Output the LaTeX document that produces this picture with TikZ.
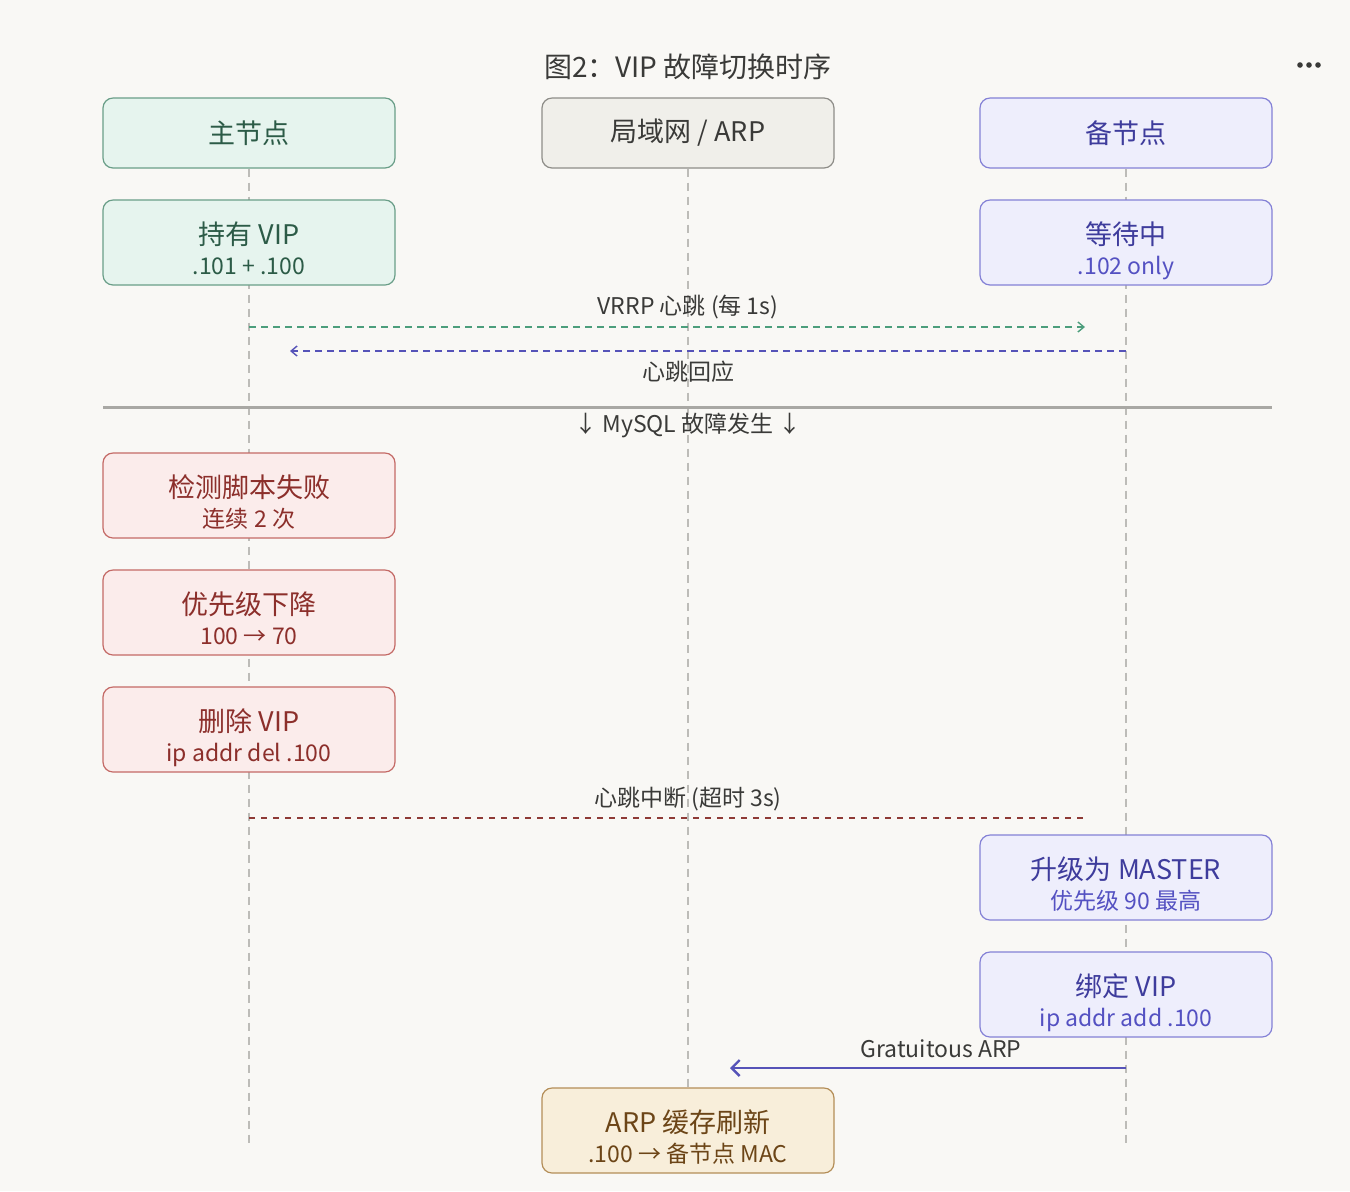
\documentclass[tikz,border=0pt]{standalone}
\usepackage{fontspec}
\setmainfont{Noto Sans CJK SC}
\usetikzlibrary{arrows.meta,positioning,backgrounds}
\definecolor{paper}{HTML}{F9F8F5}
\definecolor{ink}{HTML}{3A3A38}
\definecolor{lifegray}{HTML}{BDBCB8}
\definecolor{sepgray}{HTML}{A9A8A4}
\definecolor{mainfill}{HTML}{E6F4EE}
\definecolor{maindraw}{HTML}{6A9E88}
\definecolor{maintext}{HTML}{2C5B47}
\definecolor{netfill}{HTML}{F0EFEA}
\definecolor{netdraw}{HTML}{8E8D88}
\definecolor{backfill}{HTML}{EEEEFC}
\definecolor{backdraw}{HTML}{8481D6}
\definecolor{backtext}{HTML}{3E3C9C}
\definecolor{backsub}{HTML}{5451C2}
\definecolor{failfill}{HTML}{FBECEB}
\definecolor{faildraw}{HTML}{C46A66}
\definecolor{failtext}{HTML}{8C2F2B}
\definecolor{arpfill}{HTML}{F8EEDA}
\definecolor{arpdraw}{HTML}{B48E58}
\definecolor{arptext}{HTML}{6C4517}
\definecolor{hbgreen}{HTML}{4C9E7C}
\definecolor{hbpurple}{HTML}{5653B8}
\definecolor{hbred}{HTML}{8E3A36}
\newcommand{\headsub}[2]{\rule{0pt}{20pt}#1\\[-1pt]{\fontsize{11.5}{14}\selectfont #2\rule[-3pt]{0pt}{3pt}}}

\begin{document}
\begin{tikzpicture}[x=0.5pt, y=-0.5pt,
node distance=15.4pt,
lane/.style={rounded corners=5pt, line width=0.6pt, minimum width=146pt, minimum height=35pt, align=center, font=\fontsize{13.5}{16}\selectfont},
stepbox/.style={lane, minimum height=42.5pt, inner sep=2pt},
mainbox/.style={fill=mainfill, draw=maindraw, text=maintext},
netbox/.style={fill=netfill, draw=netdraw, text=ink},
backbox/.style={fill=backfill, draw=backdraw, text=backtext},
failbox/.style={fill=failfill, draw=faildraw, text=failtext},
arpbox/.style={fill=arpfill, draw=arpdraw, text=arptext},
msg/.style={font=\fontsize{11.5}{14}\selectfont, text=ink, inner sep=1pt},
lifeline/.style={draw=lifegray, line width=0.75pt, dash pattern=on 4pt off 3pt},
async/.style={line width=0.7pt, dash pattern=on 3.5pt off 2.5pt, -{Straight Barb[length=3pt, width=5pt]}}
]
\useasboundingbox (0,0) rectangle (1350,1191);

% title and menu
\node[font=\fontsize{14}{16}\selectfont, text=ink] (title) at (688,67) {图2：VIP 故障切换时序};
\foreach \dx in {-9,0,9}
  \fill[ink] (1309+\dx,65) circle (1.4pt);

% lane headers
\node[lane, mainbox] (mainhdr) at (249,133) {主节点};
\node[lane, netbox] (nethdr) at (688,133) {局域网 / ARP};
\node[lane, backbox] (backhdr) at (1126,133) {备节点};

% initial state
\node[stepbox, mainbox, below=of mainhdr] (hold) {\headsub{持有 VIP}{.101 + .100}};
\node[stepbox, backbox, below=of backhdr] (wait) {\headsub{等待中}{\textcolor{backsub}{.102 only}}};

% heartbeat
\coordinate (hbs) at (249,327);
\coordinate (hbe) at (1085,327);
\coordinate (acks) at (1126,351);
\coordinate (acke) at (290,351);
\draw[async, draw=hbgreen] (hbs) -- (hbe);
\draw[async, draw=hbpurple] (acks) -- (acke);
\node[msg] (hblbl) at (688,307) {VRRP 心跳 (每 1s)};
\node[msg] (acklbl) at (688,372) {心跳回应};

% failure separator
\coordinate (seps) at (103,407);
\coordinate (sepe) at (1272,407);
\draw[sepgray, line width=1.5pt] (seps) -- (sepe);
\node[msg] (seplbl) at (688,425) {↓ MySQL 故障发生 ↓};

% master steps
\node[stepbox, failbox] (detect) at (249,495.5) {\headsub{检测脚本失败}{连续 2 次}};
\node[stepbox, failbox, below=of detect] (prio) {\headsub{优先级下降}{100 → 70}};
\node[stepbox, failbox, below=of prio] (delvip) {\headsub{删除 VIP}{ip addr del .100}};

% heartbeat lost
\coordinate (lost) at (249,818);
\coordinate (loste) at (1085,818);
\draw[hbred, line width=0.7pt, dash pattern=on 3pt off 3pt] (lost) -- (loste);
\node[msg] (lostlbl) at (688,799) {心跳中断 (超时 3s)};

% backup steps
\node[stepbox, backbox] (promote) at (1126,877.5) {\headsub{升级为 MASTER}{\textcolor{backsub}{优先级 90 最高}}};
\node[stepbox, backbox, below=of promote] (bind) {\headsub{绑定 VIP}{\textcolor{backsub}{ip addr add .100}}};

% gratuitous arp
\coordinate (garps) at (1126,1068);
\coordinate (garpe) at (730,1068);
\draw[hbpurple, line width=1.2pt, -{Straight Barb[length=4pt, width=8pt]}] (garps) -- (garpe);
\node[msg] (garplbl) at (941,1049) {Gratuitous ARP};

\node[stepbox, arpbox] (arpflush) at (688,1130.5) {\headsub{ARP 缓存刷新}{.100 → 备节点 MAC}};

% lifelines
\coordinate (mainend) at (249,1145);
\coordinate (backend) at (1126,1145);
\begin{scope}[on background layer]
\fill[paper] (0,0) rectangle (1350,1191);
\draw[lifeline] (mainhdr.south) -- (mainend);
\draw[lifeline] (nethdr.south) -- (arpflush.north);
\draw[lifeline] (backhdr.south) -- (backend);
\end{scope}
\end{tikzpicture}
\end{document}
